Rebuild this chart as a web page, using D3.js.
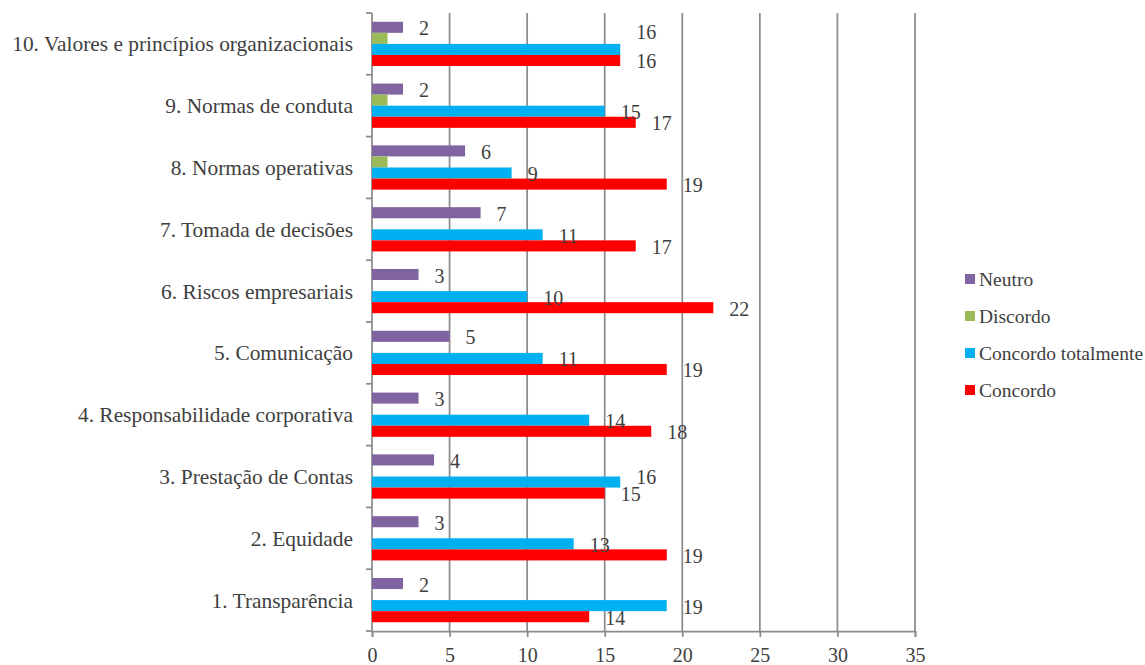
<!DOCTYPE html>
<html>
<head>
<meta charset="utf-8">
<script src="https://cdn.jsdelivr.net/npm/d3@7"></script>
<style>
  html, body { margin: 0; padding: 0; background: #fff; }
  svg { display: block; font-family: "Liberation Serif", "Times New Roman", serif; }
</style>
</head>
<body>
<svg id="chart" width="1145" height="665"></svg>
<script>
const categories = [
  "1. Transparência",
  "2. Equidade",
  "3. Prestação de Contas",
  "4. Responsabilidade corporativa",
  "5. Comunicação",
  "6. Riscos empresariais",
  "7. Tomada de decisões",
  "8. Normas operativas",
  "9. Normas de conduta",
  "10. Valores e princípios organizacionais"
];
const seriesNames = ["Neutro", "Discordo", "Concordo totalmente", "Concordo"];
const neutro = [2, 3, 4, 3, 5, 3, 7, 6, 2, 2];
const discordo = [0, 0, 0, 0, 0, 0, 0, 1, 1, 1];
const concordoTotalmente = [19, 13, 16, 14, 11, 10, 11, 9, 15, 16];
const concordo = [14, 19, 15, 18, 19, 22, 17, 19, 17, 16];
const xTicks = [0, 5, 10, 15, 20, 25, 30, 35];

const seriesValues = [neutro, discordo, concordoTotalmente, concordo];
const colors = ["#8064A2", "#9BBB59", "#00B0F0", "#FF0000"];
const showLabels = [true, false, true, true];

(function () {
const svg = d3.select("#chart");
const pLeft = 372, pRight = 915, pTop = 13, pBottom = 631;
const textColor = "#404040";
const gridColor = "#8c8c8c";
const lineW = 1.75;

const x = d3.scaleLinear().domain([0, 35]).range([pLeft, pRight]);
const y = d3.scaleBand().domain(categories.slice().reverse()).range([pTop, pBottom]).paddingInner(0).paddingOuter(0);
const bw = y.bandwidth();
const gap = bw * 0.142;
const ys = d3.scaleBand().domain(seriesNames).range([gap, bw - gap]).padding(0);

// gridlines
svg.append("g").selectAll("line").data(xTicks.filter(d => d > 0)).join("line")
  .attr("x1", d => x(d)).attr("x2", d => x(d))
  .attr("y1", pTop).attr("y2", pBottom)
  .attr("stroke", gridColor).attr("stroke-width", lineW);

// bottom axis
const xAxis = svg.append("g").attr("transform", `translate(0,${pBottom})`)
  .call(d3.axisBottom(x).tickValues(xTicks).tickSize(6).tickPadding(11));
xAxis.select(".domain").attr("stroke", gridColor).attr("stroke-width", lineW);
xAxis.selectAll(".tick line").attr("stroke", gridColor).attr("stroke-width", lineW);
xAxis.selectAll(".tick text").attr("fill", textColor)
  .style("font-family", '"Liberation Serif", serif').style("font-size", "20px");

// left axis line & boundary ticks
svg.append("line").attr("x1", pLeft).attr("x2", pLeft).attr("y1", pTop).attr("y2", pBottom)
  .attr("stroke", gridColor).attr("stroke-width", lineW);
const boundaries = d3.range(categories.length + 1).map(i => pTop + i * bw);
svg.append("g").selectAll("line").data(boundaries).join("line")
  .attr("x1", pLeft - 6).attr("x2", pLeft)
  .attr("y1", d => d).attr("y2", d => d)
  .attr("stroke", gridColor).attr("stroke-width", lineW);

// category labels
svg.append("g").selectAll("text").data(categories).join("text")
  .attr("x", pLeft - 19)
  .attr("y", d => y(d) + bw / 2)
  .attr("dy", "0.35em")
  .attr("text-anchor", "end")
  .attr("fill", textColor)
  .style("font-size", "21.4px")
  .text(d => d);

// bars
seriesNames.forEach((s, si) => {
  svg.append("g").selectAll("rect").data(categories).join("rect")
    .attr("x", pLeft)
    .attr("y", c => y(c) + ys(s))
    .attr("width", (c, i) => x(seriesValues[si][i]) - pLeft)
    .attr("height", ys.bandwidth())
    .attr("fill", colors[si]);
});

// value labels
const labelNodes = {};
seriesNames.forEach((s, si) => {
  if (!showLabels[si]) return;
  labelNodes[s] = [];
  const g = svg.append("g");
  categories.forEach((c, i) => {
    const t = g.append("text")
      .attr("x", x(seriesValues[si][i]) + 16)
      .attr("y", y(c) + ys(s) + ys.bandwidth() / 2 + 1)
      .attr("dy", "0.35em")
      .attr("fill", textColor)
      .style("font-size", "20px")
      .text(seriesValues[si][i]);
    labelNodes[s].push(t);
  });
});

// collision avoidance: move "Concordo totalmente" label up if it overlaps "Concordo" label
categories.forEach((c, i) => {
  const a = labelNodes["Concordo totalmente"][i];
  const b = labelNodes["Concordo"][i];
  const ba = a.node().getBBox(), bb = b.node().getBBox();
  const ow = Math.min(ba.x + ba.width, bb.x + bb.width) - Math.max(ba.x, bb.x);
  if (ow <= 0) return;
  const ratio = ow / Math.min(ba.width, bb.width);
  // tight glyph boxes (digits only)
  const ah = 14, aCy = +a.attr("y"), bCy = +b.attr("y");
  if (aCy + ah / 2 <= bCy - ah / 2) return;
  if (ratio > 0.8) {
    const barTop = y(c) + ys("Concordo totalmente");
    a.attr("y", barTop - 12);
  } else {
    const shift = (aCy + ah / 2) - (bCy - ah / 2) + 3;
    a.attr("y", aCy - shift);
  }
});

// legend
const legend = svg.append("g");
seriesNames.forEach((s, si) => {
  const ly = 279 + si * 37;
  legend.append("rect").attr("x", 965).attr("y", ly - 5).attr("width", 10).attr("height", 10).attr("fill", colors[si]);
  legend.append("text").attr("x", 979).attr("y", ly).attr("dy", "0.35em")
    .attr("fill", textColor).style("font-size", "19.5px").text(s);
});
})();
</script>
</body>
</html>
